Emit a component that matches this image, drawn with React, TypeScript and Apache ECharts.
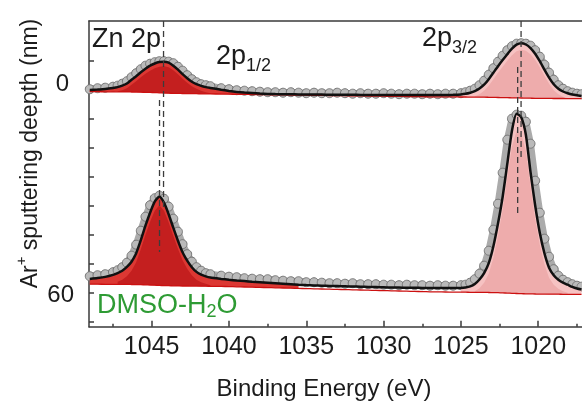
import React, { useEffect, useRef } from "react";
import * as echarts from "echarts";

// Binding energy grid (eV), shared by both spectra
const energy = [
  1049.0, 1048.5, 1048.0, 1047.5,
  1047.2, 1046.9, 1046.6, 1046.3, 1046.0, 1045.7, 1045.4, 1045.1, 1044.8, 1044.5, 1044.2,
  1043.9, 1043.6, 1043.3, 1043.0, 1042.7, 1042.4, 1042.1, 1041.8, 1041.5, 1041.2,
  1040.5, 1040.0, 1039.5, 1039.0, 1038.5, 1038.0, 1037.5, 1037.0, 1036.5, 1036.0,
  1035.5, 1035.0, 1034.5, 1034.0, 1033.5, 1033.0, 1032.5, 1032.0, 1031.5, 1031.0,
  1030.5, 1030.0, 1029.5, 1029.0, 1028.5, 1028.0, 1027.5, 1027.0, 1026.5, 1026.0,
  1025.5, 1025.0,
  1024.7, 1024.4, 1024.1, 1023.8, 1023.5, 1023.2, 1022.9, 1022.6, 1022.3, 1022.0,
  1021.7, 1021.4, 1021.1, 1020.8, 1020.5, 1020.2, 1019.9, 1019.6, 1019.3, 1019.0,
  1018.7, 1018.4, 1018.1, 1017.8, 1017.5, 1017.2,
];

// 0 nm spectrum (offset intensity)
const topData = [
  237.5, 238.5, 239.0, 240.0,
  241.0, 243.0, 245.5, 249.5, 253.5, 257.5, 261.0, 263.0, 264.5, 265.5, 265.5,
  265.0, 263.5, 260.0, 256.0, 251.5, 247.5, 244.5, 242.5, 241.5, 240.5,
  238.5, 237.5, 236.5, 236.0, 235.5, 235.0, 234.5, 234.5, 234.0, 234.5,
  234.0, 233.5, 234.0, 233.5, 233.5, 234.0, 233.5, 233.0, 233.5, 233.0,
  233.0, 233.5, 233.0, 232.5, 233.0, 233.0, 232.5, 233.0, 232.5, 233.0,
  233.0, 233.5,
  234.5, 236.0, 238.0, 241.5, 246.0, 252.0, 258.5, 265.0, 271.0, 276.5,
  280.5, 283.0, 283.5, 283.0, 281.0, 276.5, 270.0, 262.0, 254.0, 247.0,
  241.5, 238.0, 235.5, 234.0, 233.0, 232.5,
];
const topFit = [
  236.7, 237.2, 237.8, 238.8,
  239.6, 241.0, 243.2, 247.0, 250.5, 254.5, 258.0, 261.0, 263.2, 264.6, 265.0,
  264.0, 261.0, 257.0, 252.5, 248.5, 245.0, 242.5, 240.8, 239.6, 238.8,
  237.0, 235.8, 234.8, 234.1, 233.6, 233.1, 232.8, 232.6, 232.5, 232.4,
  232.3, 232.2, 232.1, 232.1, 232.0, 232.0, 231.9, 231.9, 231.8, 231.8,
  231.8, 231.7, 231.7, 231.7, 231.7, 231.6, 231.6, 231.6, 231.6, 231.7,
  231.9, 232.3,
  232.9, 234.0, 235.6, 238.2, 242.0, 247.5, 254.0, 260.5, 266.6, 272.5,
  278.0, 282.0, 283.4, 282.2, 278.6, 273.0, 265.5, 257.0, 249.0, 242.4,
  238.0, 235.2, 233.5, 232.2, 231.4, 230.8,
];
const topBg = [
  235.0, 235.0, 234.9, 234.9,
  234.9, 234.8, 234.8, 234.7, 234.6, 234.5, 234.4, 234.3, 234.1, 233.9, 233.7,
  233.5, 233.4, 233.3, 233.2, 233.1, 233.0, 233.0, 232.9, 232.9, 232.8,
  232.6, 232.5, 232.4, 232.3, 232.2, 232.1, 232.0, 231.9, 231.8, 231.7,
  231.6, 231.5, 231.4, 231.3, 231.2, 231.1, 231.0, 230.9, 230.8, 230.7,
  230.6, 230.5, 230.4, 230.3, 230.2, 230.1, 230.0, 229.9, 229.9, 229.8,
  229.8, 229.7,
  229.7, 229.6, 229.6, 229.5, 229.5, 229.4, 229.3, 229.2, 229.1, 229.0,
  228.9, 228.8, 228.7, 228.6, 228.5, 228.4, 228.4, 228.3, 228.3, 228.2,
  228.2, 228.2, 228.1, 228.1, 228.1, 228.1,
];
// inner (main) components, 1047.2–1041.2 eV and 1024.1–1018.1 eV
const topInner12 = [
  235.5, 236.5, 238.5, 242.0, 245.5, 249.5, 253.0, 256.0, 258.5, 260.0, 260.5,
  259.5, 256.5, 252.5, 248.0, 244.0, 240.5, 238.0, 236.0, 234.5, 233.5,
];
const topInner32 = [
  230.5, 232.5, 236.0, 241.0, 247.5, 254.0, 260.0, 266.0, 271.5, 275.5, 277.0,
  276.0, 272.5, 267.0, 259.5, 251.0, 243.0, 236.5, 232.5, 230.0, 228.8,
];

// 60 nm spectrum
const botData = [
  50.5, 51.5, 52.5, 54.5,
  56.5, 59.5, 64.0, 71.0, 82.0, 96.0, 110.0, 121.5, 128.5, 131.0, 128.0,
  120.0, 108.0, 95.0, 82.5, 72.5, 65.0, 59.5, 56.0, 53.5, 52.5,
  51.0, 50.0, 49.5, 48.5, 48.0, 47.5, 47.5, 46.5, 46.0, 45.5,
  45.5, 44.5, 44.5, 44.0, 43.5, 43.5, 43.0, 43.5, 42.5, 42.5,
  42.5, 42.0, 42.0, 41.5, 42.0, 41.5, 41.5, 41.0, 41.5, 41.0,
  41.0, 41.5,
  42.0, 44.0, 47.5, 53.0, 61.0, 76.0, 97.0, 123.0, 154.0, 187.0,
  208.0, 212.0, 211.0, 205.0, 183.0, 146.0, 114.0, 88.0, 70.0, 57.5,
  51.0, 47.0, 44.5, 42.5, 41.0, 40.0,
];
const botFit = [
  47.7, 48.6, 49.8, 51.8,
  53.6, 56.0, 59.8, 65.0, 73.5, 86.5, 101.0, 114.0, 125.0, 130.2, 124.0,
  112.5, 99.0, 86.0, 74.5, 66.0, 59.5, 54.8, 52.0, 50.3, 49.2,
  47.8, 46.9, 46.2, 45.6, 45.0, 44.5, 44.0, 43.5, 43.0, 42.5,
  42.0, 41.6, 41.3, 41.0, 40.8, 40.6, 40.4, 40.2, 40.0, 39.8,
  39.6, 39.4, 39.2, 39.1, 39.0, 38.9, 38.8, 38.7, 38.7, 38.7,
  38.7, 38.8,
  39.3, 40.3, 42.8, 47.2, 53.5, 63.5, 80.5, 103.4, 130.0, 163.0,
  196.0, 213.0, 209.5, 192.0, 154.7, 121.5, 94.0, 73.5, 59.0, 51.5,
  47.0, 44.0, 42.0, 39.8, 38.2, 37.2,
];
const botBg = [
  42.5, 42.5, 42.4, 42.4,
  42.4, 42.3, 42.3, 42.2, 42.1, 42.0, 41.9, 41.7, 41.5, 41.3, 41.1,
  41.0, 40.9, 40.8, 40.7, 40.7, 40.6, 40.6, 40.5, 40.5, 40.4,
  40.3, 40.1, 39.9, 39.7, 39.5, 39.3, 39.1, 38.9, 38.7, 38.5,
  38.3, 38.1, 37.9, 37.7, 37.5, 37.3, 37.1, 36.9, 36.7, 36.5,
  36.3, 36.1, 35.9, 35.7, 35.5, 35.3, 35.1, 34.9, 34.8, 34.7,
  34.6, 34.5,
  34.5, 34.4, 34.4, 34.3, 34.3, 34.2, 34.1, 34.0, 33.8, 33.6,
  33.4, 33.2, 33.0, 32.9, 32.8, 32.7, 32.6, 32.6, 32.5, 32.5,
  32.5, 32.4, 32.4, 32.4, 32.4, 32.4,
];
const botInner12 = [
  45.0, 47.0, 50.5, 56.0, 64.5, 77.5, 92.0, 105.0, 116.0, 121.5, 116.0,
  104.5, 91.0, 78.0, 66.5, 58.0, 51.5, 47.0, 44.5, 43.0, 41.5,
];
const botInner32 = [
  35.5, 38.5, 44.0, 53.0, 69.0, 91.0, 117.0, 149.0, 180.0, 196.0, 193.0,
  176.0, 140.0, 108.0, 82.0, 62.5, 49.0, 42.0, 38.0, 35.5, 34.0,
];

// Component regions (eV)
const comp12Range = [1035.5, 1049.0];
const comp32Range = [1017.2, 1025.0];
const inner12Range = [1041.2, 1047.2];
const inner32Range = [1018.1, 1024.1];

// Peak-position guide lines
const peakE = [1044.23, 1044.49, 1021.11, 1021.33];
const peakLineTop = [305.7, 226.7, 305.7, 259.7];
const peakLineBottom = [119.7, 74.7, 169.7, 111.7];

// Axis ticks / labels
const xMajor = [1020, 1025, 1030, 1035, 1040, 1045];
const xMinor = [1017.5, 1022.5, 1027.5, 1032.5, 1037.5, 1042.5, 1047.5];
const yTicks = [5, 34, 63, 92, 121, 150, 179, 208, 237, 266];
const depthLabelPos = [33, 244];
const depthLabels = ["60", "{a|0}"];

const FONT = '"Liberation Sans", Arial, Helvetica, sans-serif';
const AXIS = "#3a3a3a";
const TXT = "#1c1c1c";
const X_MIN = 1017.17;
const X_MAX = 1049.05;

function pairs(vals: number[]) {
  return energy.map((e, i) => [e, vals[i]]);
}

function rangeIdx(range: number[]) {
  return energy.map((_, i) => i).filter((i) => energy[i] >= range[0] - 1e-6 && energy[i] <= range[1] + 1e-6);
}

// Fill between a top curve and the background, over an energy range.
// topVals is either full-length (aligned with energy) or aligned with the range.
function fillSeries(topVals: number[], bg: number[], range: number[], color: string, z: number) {
  const idx = rangeIdx(range);
  const full = topVals.length === energy.length;
  const topAt = (k: number) => (full ? topVals[idx[k]] : topVals[k]);
  return {
    type: "custom",
    silent: true,
    z,
    clip: true,
    data: [[energy[idx[0]], topAt(0)]],
    renderItem: (_p: any, api: any) => {
      const top = idx.map((i, k) => api.coord([energy[i], topAt(k)]));
      const bottom = idx
        .slice()
        .reverse()
        .map((i) => api.coord([energy[i], bg[i]]));
      return {
        type: "polygon",
        shape: { points: top.concat(bottom), smooth: 0 },
        style: { fill: color, stroke: null },
      };
    },
  };
}

function dataSeries(vals: number[]) {
  return {
    type: "line",
    data: pairs(vals),
    z: 2,
    symbol: "circle",
    symbolSize: 9,
    showAllSymbol: true,
    lineStyle: { color: "#ababab", width: 7 },
    itemStyle: { color: "#bababa", borderColor: "#767676", borderWidth: 1 },
    silent: true,
  };
}

function lineSeries(vals: number[], color: string, width: number, z: number) {
  return {
    type: "line",
    data: pairs(vals),
    z,
    symbol: "none",
    smooth: 0.2,
    lineStyle: { color, width },
    silent: true,
  };
}

export default function App() {
  const ref = useRef<HTMLDivElement>(null);
  useEffect(() => {
    if (!ref.current) return;
    const chart = echarts.init(ref.current, undefined, { renderer: "svg" });
    const guideSeries = peakE.map((e, i) => ({
      type: "line",
      data: [
        [e, peakLineTop[i]],
        [e, peakLineBottom[i]],
      ],
      z: 6,
      symbol: "none",
      lineStyle: { color: "#3c3c3c", width: 1.3, type: [6, 4] },
      silent: true,
    }));
    const baseX = {
      type: "value",
      min: X_MIN,
      max: X_MAX,
      inverse: true,
      splitLine: { show: false },
    };
    chart.setOption({
      animation: false,
      grid: { left: 89, right: 0, top: 21, bottom: 79.3 },
      xAxis: [
        {
          ...baseX,
          position: "bottom",
          axisLine: { show: true, lineStyle: { color: AXIS, width: 1.5 } },
          axisTick: { show: true, inside: true, length: 6, customValues: xMajor, lineStyle: { color: AXIS, width: 1.5 } },
          axisLabel: {
            show: true,
            customValues: xMajor,
            margin: 6,
            fontSize: 25,
            color: TXT,
            fontFamily: FONT,
            formatter: (v: number) => String(v),
          },
        },
        {
          ...baseX,
          position: "bottom",
          axisLine: { show: false },
          axisTick: { show: true, inside: true, length: 3, customValues: xMinor, lineStyle: { color: AXIS, width: 1.5 } },
          axisLabel: { show: false },
        },
        {
          ...baseX,
          position: "top",
          axisLine: { show: true, lineStyle: { color: AXIS, width: 1.5 } },
          axisTick: { show: false },
          axisLabel: { show: false },
        },
      ],
      yAxis: {
        type: "value",
        min: 0,
        max: 305.7,
        splitLine: { show: false },
        axisLine: { show: true, lineStyle: { color: AXIS, width: 1.5 } },
        axisTick: { show: true, inside: true, length: 5, customValues: yTicks, lineStyle: { color: AXIS, width: 1.5 } },
        axisLabel: {
          show: true,
          customValues: depthLabelPos,
          margin: 15,
          fontSize: 24,
          color: TXT,
          fontFamily: FONT,
          formatter: (v: number) => depthLabels[depthLabelPos.indexOf(v)] ?? "",
          rich: { a: { fontSize: 24, fontFamily: FONT, color: TXT, padding: [0, 5, 0, 0] } },
        },
      },
      series: [
        dataSeries(topData),
        dataSeries(botData),
        fillSeries(topFit, topBg, comp12Range, "#dc3833", 3),
        fillSeries(topFit, topBg, comp32Range, "#f6c2c2", 3),
        fillSeries(botFit, botBg, comp12Range, "#dc3833", 3),
        fillSeries(botFit, botBg, comp32Range, "#f6c2c2", 3),
        fillSeries(topInner12, topBg, inner12Range, "#c41f1f", 3.5),
        fillSeries(topInner32, topBg, inner32Range, "#eeacac", 3.5),
        fillSeries(botInner12, botBg, inner12Range, "#c41f1f", 3.5),
        fillSeries(botInner32, botBg, inner32Range, "#eeacac", 3.5),
        lineSeries(topBg, "#cc1010", 1.3, 4),
        lineSeries(botBg, "#cc1010", 1.3, 4),
        lineSeries(topFit, "#111111", 2.5, 5),
        lineSeries(botFit, "#111111", 2.5, 5),
        ...guideSeries,
      ],
      graphic: [
        {
          type: "text",
          x: 92,
          y: 37.5,
          style: { text: "Zn 2p", fontSize: 27, fontFamily: FONT, fill: TXT, align: "left", verticalAlign: "middle" },
        },
        {
          type: "text",
          x: 216,
          y: 55,
          style: {
            text: "2p{sub|1/2}",
            fontSize: 27,
            fontFamily: FONT,
            fill: TXT,
            align: "left",
            verticalAlign: "middle",
            rich: { sub: { fontSize: 18, fontFamily: FONT, fill: TXT, padding: [20, 0, 0, 0] } },
          },
        },
        {
          type: "text",
          x: 422,
          y: 36.5,
          style: {
            text: "2p{sub|3/2}",
            fontSize: 27,
            fontFamily: FONT,
            fill: TXT,
            align: "left",
            verticalAlign: "middle",
            rich: { sub: { fontSize: 18, fontFamily: FONT, fill: TXT, padding: [20, 0, 0, 0] } },
          },
        },
        {
          type: "text",
          x: 97,
          y: 303.5,
          style: {
            text: "DMSO-H{sub|2}O",
            fontSize: 27,
            fontFamily: FONT,
            fill: "#2e9b34",
            align: "left",
            verticalAlign: "middle",
            rich: { sub: { fontSize: 18, fontFamily: FONT, fill: "#2e9b34", padding: [14, 0, 0, 0] } },
          },
        },
        {
          type: "text",
          x: 324,
          y: 387,
          style: { text: "Binding Energy (eV)", fontSize: 24, fontFamily: FONT, fill: TXT, align: "center", verticalAlign: "middle" },
        },
        {
          type: "text",
          x: 28.5,
          y: 153.5,
          rotation: Math.PI / 2,
          style: {
            text: "Ar{sup|+} sputtering deepth (nm)",
            fontSize: 23,
            fontFamily: FONT,
            fill: TXT,
            align: "center",
            verticalAlign: "middle",
            rich: { sup: { fontSize: 15, fontFamily: FONT, fill: TXT, padding: [0, 0, 16, 0] } },
          },
        },
      ],
    });
    return () => chart.dispose();
  }, []);
  return <div ref={ref} style={{ position: "fixed", left: 0, top: 0, width: 582, height: 406 }} />;
}
